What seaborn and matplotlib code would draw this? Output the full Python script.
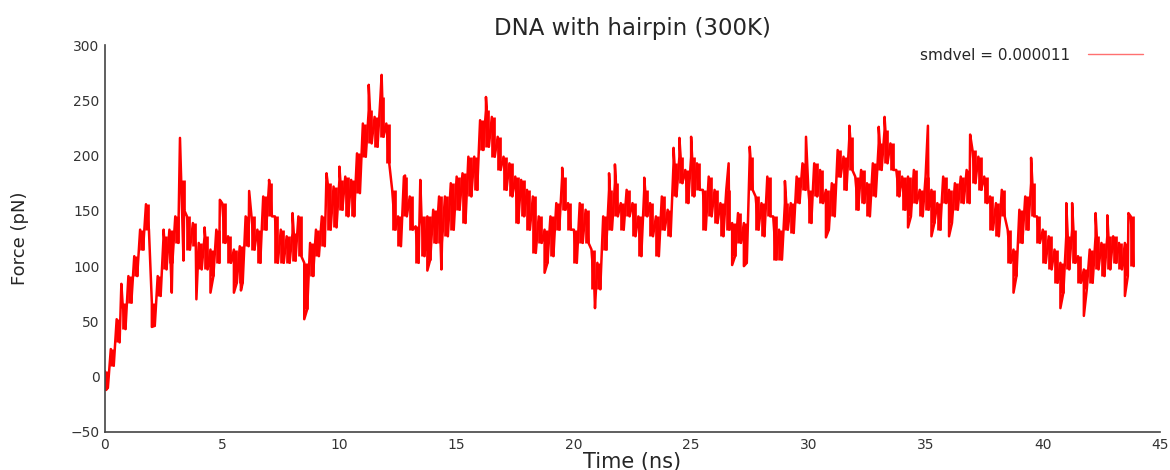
import numpy as np
import pandas as pd
import matplotlib
matplotlib.use("Agg")
import matplotlib.pyplot as plt
import seaborn as sns
from matplotlib.lines import Line2D

# time grid (ns), one reading every 0.25 ns
time = np.arange(0, 44, 0.25)

# upper edge of the noisy band (pN)
force_hi = [5, 25, 52, 67, 91, 109, 133, 156, 67, 91, 127, 133, 145, 178, 145, 139,
            121, 127, 115, 133, 157, 127, 115, 118, 145, 145, 133, 163, 175, 145, 133, 127,
            130, 145, 103, 121, 133, 145, 175, 172, 178, 181, 178, 202, 229, 241, 235, 253,
            229, 169, 145, 181, 163, 136, 145, 145, 151, 163, 163, 175, 181, 184, 199, 199,
            232, 241, 235, 217, 199, 193, 181, 178, 169, 163, 145, 133, 145, 157, 181, 157,
            133, 157, 151, 115, 103, 145, 169, 175, 157, 169, 157, 145, 169, 157, 145, 163,
            151, 193, 199, 187, 199, 193, 169, 181, 169, 157, 169, 139, 148, 139, 199, 163,
            157, 181, 145, 133, 157, 157, 181, 193, 169, 193, 187, 169, 175, 205, 199, 217,
            181, 187, 175, 193, 211, 223, 211, 187, 181, 181, 187, 169, 181, 169, 157, 181,
            169, 175, 181, 187, 205, 199, 181, 163, 157, 169, 133, 115, 151, 163, 175, 145,
            133, 127, 115, 103, 127, 133, 109, 97, 115, 127, 121, 127, 127, 121, 121, 145]

# lower edge of the band (pN), read half a step later
force_lo = [-10, 10, 31, 43, 67, 91, 115, 133, 46, 73, 97, 103, 121, 151, 115, 118,
            97, 97, 91, 103, 121, 103, 85, 85, 118, 115, 103, 133, 145, 103, 103, 103,
            105, 109, 61, 91, 109, 118, 133, 135, 151, 145, 145, 166, 199, 211, 208, 217,
            193, 133, 118, 145, 133, 103, 109, 106, 121, 121, 127, 133, 151, 139, 163, 169,
            205, 208, 199, 187, 169, 163, 139, 145, 133, 112, 121, 103, 109, 133, 151, 133,
            103, 121, 121, 79, 79, 115, 133, 145, 133, 145, 127, 109, 145, 127, 109, 133,
            127, 163, 175, 157, 163, 169, 133, 145, 139, 127, 133, 109, 121, 103, 169, 133,
            127, 145, 106, 106, 133, 130, 157, 169, 139, 163, 157, 133, 145, 181, 169, 187,
            151, 157, 145, 163, 187, 193, 187, 163, 151, 145, 157, 145, 151, 139, 133, 157,
            139, 151, 157, 157, 175, 169, 157, 133, 127, 145, 103, 91, 121, 133, 145, 121,
            103, 97, 85, 76, 97, 103, 85, 79, 85, 97, 91, 97, 103, 97, 91, 100]

# isolated spikes seen in the trace
spike_time = [0.05, 0.7, 2.0, 2.5, 2.85, 3.2, 3.35, 3.9, 4.25, 4.5, 4.9, 5.5, 5.8, 6.15,
              7.0, 8.0, 8.5, 9.45, 10.0, 11.25, 11.8, 12.8, 13.45, 13.75, 14.35, 16.25,
              18.75, 19.5, 20.9, 21.5, 21.75, 23.0, 24.25, 24.5, 25.0, 26.6, 26.75, 27.25,
              27.5, 29.0, 29.9, 30.75, 31.75, 33.0, 33.25, 34.25, 35.1, 35.25, 36.0, 36.9,
              38.75, 39.5, 40.75, 41.0, 41.25, 41.75, 42.25, 42.75, 43.5, 43.65]
spike_force = [-12, 84, 45, 133, 76, 216, 105, 70, 135, 76, 160, 76, 78, 168,
               178, 148, 52, 184, 190, 264, 273, 182, 178, 96, 97, 253,
               94, 189, 62, 184, 192, 180, 207, 216, 217, 193, 101, 100,
               208, 177, 217, 126, 227, 226, 235, 135, 227, 127, 127, 219,
               76, 198, 62, 157, 157, 55, 148, 146, 73, 148]

df = pd.concat([
    pd.DataFrame({"time": time, "force": force_hi}),
    pd.DataFrame({"time": time + 0.125, "force": force_lo}),
    pd.DataFrame({"time": spike_time, "force": spike_force}),
]).sort_values("time", kind="mergesort").reset_index(drop=True)

sns.set_style("white")
plt.rcParams["font.family"] = ["DejaVu Sans"]

fig = plt.figure(figsize=(11.7, 4.7), dpi=100)
ax = fig.add_axes([0.0897, 0.0809, 0.9018, 0.8233])

# vertical strokes spanning each hi/lo reading, then the zigzag trace on top
ax.vlines(time + 0.06, force_lo, force_hi, color="#ff0000", lw=3.4)
sns.lineplot(data=df, x="time", y="force", sort=False, estimator=None,
             color="#ff0000", lw=1.8, ax=ax)

ax.set_xlim(0, 45)
ax.set_ylim(-50, 300)
ax.set_xticks(range(0, 46, 5))
ax.set_yticks(range(-50, 301, 50))
for s in ["top", "right"]:
    ax.spines[s].set_visible(False)
for s in ["left", "bottom"]:
    ax.spines[s].set_color("#444444")
    ax.spines[s].set_linewidth(1.2)
ax.tick_params(direction="in", length=5, width=0.8, color="#444444",
               labelsize=10, labelcolor="#333333", pad=4)

ax.set_xlabel("Time (ns)", fontsize=15, labelpad=0)
ax.set_ylabel("Force (pN)", fontsize=13, labelpad=30)
ax.set_title("DNA with hairpin (300K)", fontsize=16.5, pad=7)

handle = Line2D([], [], color="#ff7070", lw=1)
ax.legend([handle], ["smdvel = 0.000011"], loc="center right", frameon=False,
          markerfirst=False, fontsize=11, handlelength=3.6, handletextpad=1.2,
          bbox_to_anchor=(1143 / 1170, 1 - 55 / 470), bbox_transform=fig.transFigure,
          borderaxespad=0, borderpad=0)

fig.savefig("out.png", dpi=100)
